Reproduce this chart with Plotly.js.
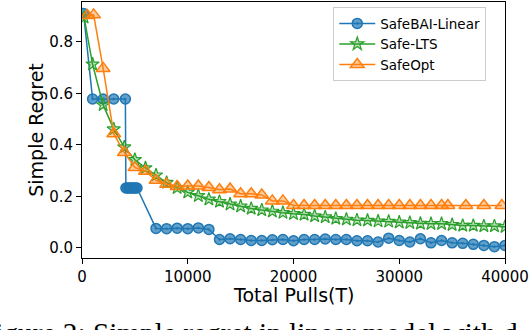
<!DOCTYPE html>
<html>
<head>
<meta charset="utf-8">
<script src="https://cdn.plot.ly/plotly-3.0.1.min.js"></script>
<style>
  html, body { margin: 0; padding: 0; background: #fff; }
  #chart { width: 530px; height: 330px; }
</style>
</head>
<body>
<div id="chart"></div>
<script>
// values
const safeBaiT = [150, 1000, 2000, 3000, 4100,
    4150, 4300, 4450, 4600, 4750, 4900, 5050, 5200,
    7000, 8000, 9000, 10000, 11000, 12000,
    13000, 14000, 15000, 16000, 17000, 18000, 19000, 20000, 21000, 22000,
    23000, 24000, 25000, 26000, 27000, 28000, 29000, 30000, 31000, 32000,
    33000, 34000, 35000, 36000, 37000, 38000, 39000, 40000];
const safeBaiV = [0.91, 0.578, 0.578, 0.578, 0.578,
    0.232, 0.232, 0.232, 0.232, 0.232, 0.232, 0.232, 0.232,
    0.075, 0.074, 0.076, 0.074, 0.077, 0.071,
    0.032, 0.035, 0.032, 0.028, 0.028, 0.031, 0.032, 0.027, 0.032, 0.032,
    0.034, 0.032, 0.032, 0.027, 0.027, 0.022, 0.037, 0.028, 0.022, 0.035,
    0.019, 0.028, 0.019, 0.017, 0.013, 0.009, 0.004, 0.009];

const safeLtsT = [200, 1000, 2000, 3000, 4000, 5000, 6000, 7000, 8000, 9000,
    10000, 11000, 12000, 13000, 14000, 15000, 16000, 17000, 18000, 19000,
    20000, 21000, 22000, 23000, 24000, 25000, 26000, 27000, 28000, 29000,
    30000, 31000, 32000, 33000, 34000, 35000, 36000, 37000, 38000, 39000, 40000];
const safeLtsV = [0.895, 0.713, 0.555, 0.461, 0.391, 0.342, 0.310, 0.282, 0.253, 0.233,
    0.215, 0.202, 0.188, 0.179, 0.169, 0.161, 0.152, 0.146, 0.141, 0.136,
    0.132, 0.129, 0.123, 0.119, 0.113, 0.110, 0.107, 0.106, 0.103, 0.102,
    0.099, 0.097, 0.094, 0.093, 0.093, 0.089, 0.086, 0.086, 0.084, 0.084, 0.081];

const safeOptT = [500, 1100, 2000, 3000, 4000, 5000, 6000, 7000, 8000, 9000,
    10000, 11000, 12000, 13000, 14000, 15000, 16000, 17000, 18000, 19000,
    20000, 21000, 22000, 23000, 24000, 25000, 26000, 27000, 28000, 29000,
    30000, 31000, 32000, 33000, 34000, 34600, 36300, 38000, 39700];
const safeOptV = [0.903, 0.905, 0.697, 0.443, 0.370, 0.312, 0.297, 0.262, 0.247, 0.238,
    0.240, 0.240, 0.234, 0.225, 0.228, 0.210, 0.210, 0.205, 0.182, 0.182,
    0.164, 0.164, 0.164, 0.164, 0.164, 0.164, 0.164, 0.164, 0.164, 0.164,
    0.164, 0.164, 0.164, 0.164, 0.164, 0.164, 0.164, 0.164, 0.164];

const xTicks = [0, 10000, 20000, 30000, 40000];
const yTicks = [0.0, 0.2, 0.4, 0.6, 0.8];

const FONT = 'DejaVu Sans, sans-serif';

const traces = [
    {
        x: safeBaiT, y: safeBaiV, name: 'SafeBAI-Linear',
        mode: 'lines+markers',
        line: { color: '#1f77b4', width: 1.5 },
        marker: { symbol: 'circle-dot', size: 10, color: 'rgba(31,119,180,0.7)',
            line: { color: '#1f77b4', width: 1.5 } }
    },
    {
        x: safeLtsT, y: safeLtsV, name: 'Safe-LTS',
        mode: 'lines+markers',
        line: { color: '#2ca02c', width: 1.5 },
        marker: { symbol: 'star', size: 10, color: 'rgba(44,160,44,0.3)',
            line: { color: '#2ca02c', width: 1.2 } }
    },
    {
        x: safeOptT, y: safeOptV, name: 'SafeOpt',
        mode: 'lines+markers',
        line: { color: '#ff7f0e', width: 1.5 },
        marker: { symbol: 'triangle-up', size: 12, color: 'rgba(255,127,14,0.4)',
            line: { color: '#ff7f0e', width: 1.5 } }
    }
];

const layout = {
    width: 530, height: 330,
    margin: { l: 82, r: 25, t: 2, b: 72 },
    paper_bgcolor: '#fff', plot_bgcolor: '#fff',
    font: { family: FONT, size: 15, color: '#000' },
    showlegend: true,
    legend: {
        x: 0.594, y: 0.98, xanchor: 'left', yanchor: 'top',
        bgcolor: '#fff', bordercolor: '#cccccc', borderwidth: 1,
        itemwidth: 36,
        font: { family: FONT, size: 13.5, color: '#000' }
    },
    xaxis: {
        range: [0, 40000], tickvals: xTicks, tickformat: 'd',
        showgrid: false, zeroline: false,
        showline: true, linecolor: '#000', linewidth: 1, mirror: true,
        ticks: 'outside', ticklen: 5, tickcolor: '#000',
        tickfont: { size: 15 }
    },
    yaxis: {
        range: [-0.04, 0.955], tickvals: yTicks, tickformat: '.1f',
        showgrid: false, zeroline: false,
        showline: true, linecolor: '#000', linewidth: 1, mirror: true,
        ticks: 'outside', ticklen: 5, tickcolor: '#000',
        tickfont: { size: 15 },
        title: { text: 'Simple Regret', font: { size: 19 }, standoff: 0 }
    },
    annotations: [
        {
            // x axis title, placed by hand to sit a little closer to the ticks
            text: 'Total Pulls(T)',
            xref: 'paper', yref: 'paper', x: 0.5, y: -0.145,
            xanchor: 'center', yanchor: 'middle', showarrow: false,
            font: { family: FONT, size: 19, color: '#000' }
        },
        {
            text: 'Figure 2: Simple regret in linear model with d',
            xref: 'paper', yref: 'paper', x: -0.249, y: -0.223,
            xanchor: 'left', yanchor: 'top', showarrow: false,
            font: { family: 'Liberation Serif, serif', size: 29.3, color: '#000' }
        }
    ]
};

Plotly.newPlot('chart', traces, layout, { displayModeBar: false, staticPlot: true });
</script>
</body>
</html>
